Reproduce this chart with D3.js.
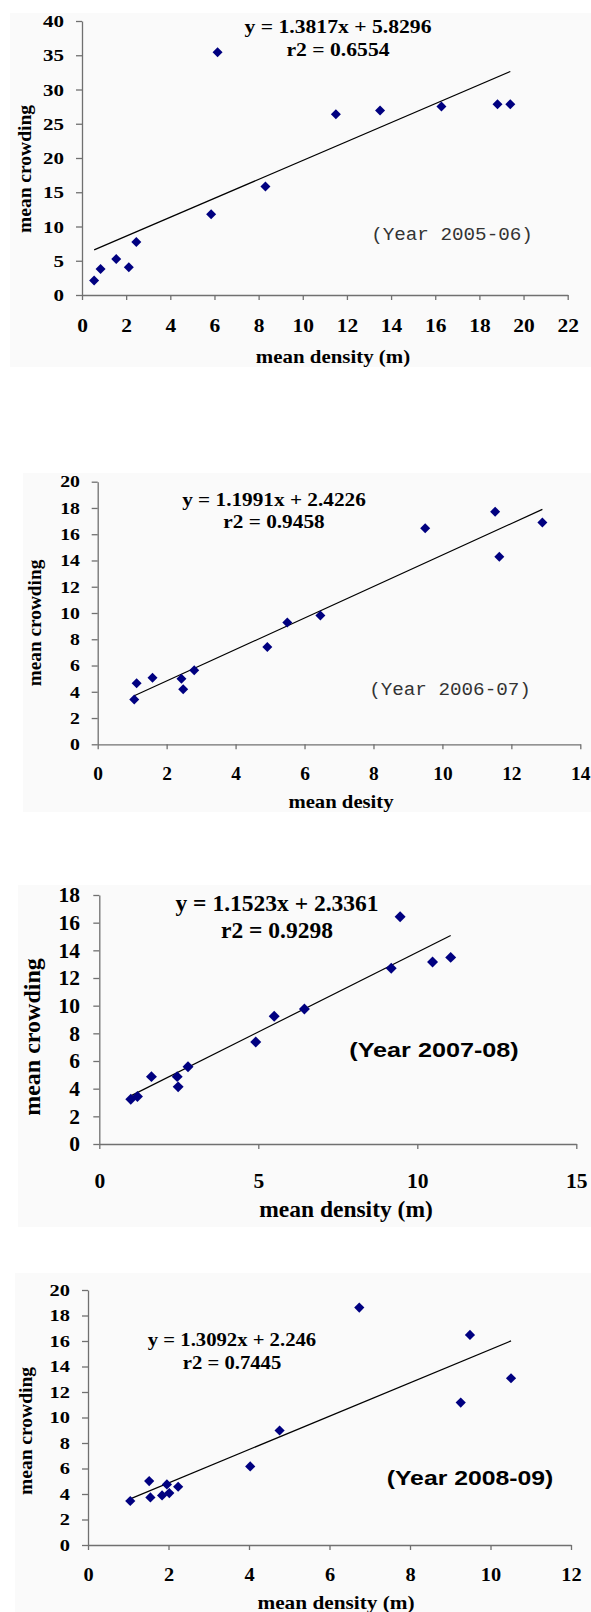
<!DOCTYPE html>
<html>
<head>
<meta charset="utf-8">
<script src="https://cdn.jsdelivr.net/npm/d3@7"></script>
<style>
  body { margin: 0; background: #fff; }
  svg { display: block; }
</style>
</head>
<body>
<svg id="chart" width="591" height="1612"></svg>
<script>
// Year 2005-06
const density05 = [0.55, 0.84, 1.55, 2.12, 2.46, 5.85, 6.14, 8.31, 11.5, 13.5, 16.28, 18.82, 19.4];
const crowding05 = [2.1, 3.8, 5.25, 4.05, 7.75, 11.8, 35.45, 15.85, 26.4, 26.95, 27.5, 27.85, 27.85];
// Year 2006-07
const density06 = [1.06, 1.13, 1.59, 2.43, 2.48, 2.8, 4.92, 5.5, 6.46, 9.5, 11.53, 11.65, 12.9];
const crowding06 = [3.41, 4.65, 5.06, 5.0, 4.2, 5.64, 7.41, 9.28, 9.81, 16.46, 17.72, 14.29, 16.89];
// Year 2007-08
const density07 = [0.99, 1.2, 1.64, 2.45, 2.48, 2.79, 4.92, 5.5, 6.45, 9.18, 9.46, 10.48, 11.05];
const crowding07 = [3.24, 3.44, 4.87, 4.87, 4.13, 5.58, 7.38, 9.23, 9.76, 12.71, 16.43, 13.15, 13.49];
// Year 2008-09
const density08 = [1.05, 1.52, 1.55, 1.84, 1.96, 2.02, 2.24, 4.03, 4.76, 6.74, 9.26, 9.49, 10.51];
const crowding08 = [3.45, 5.01, 3.73, 3.89, 4.75, 4.07, 4.57, 6.16, 8.98, 18.62, 11.17, 16.48, 13.08];

// fitted lines [slope, intercept] and their printed labels
const fit05 = [1.3817, 5.8296];
const fit06 = [1.1991, 2.4226];
const fit07 = [1.1523, 2.3361];
const fit08 = [1.3092, 2.246];
const eqLabels = [
  ['y = 1.3817x + 5.8296', 'r2 = 0.6554'],
  ['y = 1.1991x + 2.4226', 'r2 = 0.9458'],
  ['y = 1.1523x + 2.3361', 'r2 = 0.9298'],
  ['y = 1.3092x + 2.246', 'r2 = 0.7445']
];
const yearLabels = ['(Year 2005-06)', '(Year 2006-07)', '(Year 2007-08)', '(Year 2008-09)'];
const xTitles = ['mean density (m)', 'mean desity', 'mean density (m)', 'mean density (m)'];
const yTitle = 'mean crowding';

// tick values
const xTicks05 = [0, 2, 4, 6, 8, 10, 12, 14, 16, 18, 20, 22];
const yTicks05 = [0, 5, 10, 15, 20, 25, 30, 35, 40];
const xTicks06 = [0, 2, 4, 6, 8, 10, 12, 14];
const yTicks06 = [0, 2, 4, 6, 8, 10, 12, 14, 16, 18, 20];
const xTicks07 = [0, 5, 10, 15];
const yTicks07 = [0, 2, 4, 6, 8, 10, 12, 14, 16, 18];
const xTicks08 = [0, 2, 4, 6, 8, 10, 12];
const yTicks08 = [0, 2, 4, 6, 8, 10, 12, 14, 16, 18, 20];

const serif = '"Liberation Serif", "Times New Roman", serif';
const sans = '"Liberation Sans", Arial, sans-serif';
const mono = '"Liberation Mono", "DejaVu Sans Mono", monospace';

const panels = [
  { xs: density05, ys: crowding05, fit: fit05, xt: xTicks05, yt: yTicks05,
    bg: [10, 13, 581, 354], px: [82, 567.7], py: [295, 21],
    yFont: 17.5, yStretch: 1.2, yOff: 18, xFont: 19.5, xStretch: 1.1, xOff: 37,
    title: [333, 363, 18.5, 1.13], ytitle: [24, 169, 19.5],
    eq: [338, 33, 56, 18.5, 1.17], year: [452, 240, 18, 1.07, mono, 'normal', '#333'], mk: 50 },
  { xs: density06, ys: crowding06, fit: fit06, xt: xTicks06, yt: yTicks06,
    bg: [23, 473, 568, 339], px: [97.7, 580.3], py: [744.3, 481.7],
    yFont: 16.5, yStretch: 1.2, yOff: 17.7, xFont: 18.5, xStretch: 1.05, xOff: 35.5,
    title: [341, 808, 18.5, 1.12], ytitle: [34, 623, 19.3],
    eq: [274, 506, 528, 19, 1.12], year: [450, 695, 18, 1.07, mono, 'normal', '#333'], mk: 50 },
  { xs: density07, ys: crowding07, fit: fit07, xt: xTicks07, yt: yTicks07,
    bg: [18, 885, 573, 342], px: [99.3, 576.3], py: [1144, 895],
    yFont: 21.5, yStretch: 1.0, yOff: 19.3, xFont: 21.5, xStretch: 1.0, xOff: 44,
    title: [346, 1217, 23.5, 1.0], ytitle: [32, 1037, 24],
    eq: [277, 911, 938, 23.5, 1.0], year: [434, 1057, 21, 1.2, sans, 'bold', '#000'], mk: 60 },
  { xs: density08, ys: crowding08, fit: fit08, xt: xTicks08, yt: yTicks08,
    bg: [15, 1273, 576, 339], px: [88, 571], py: [1545, 1290],
    yFont: 17, yStretch: 1.2, yOff: 18, xFont: 18.5, xStretch: 1.1, xOff: 36.5,
    title: [336, 1609, 18.5, 1.15], ytitle: [25, 1431, 19.5],
    eq: [232, 1346, 1369, 18, 1.15], year: [470, 1485, 21, 1.18, sans, 'bold', '#000'], mk: 52 }
];

const svg = d3.select('#chart');
svg.append('rect').attr('width', 591).attr('height', 1612).attr('fill', '#fff');

function stretchedText(g, x, y, txt, size, s, family, weight, color) {
  return g.append('text')
    .attr('transform', 'translate(' + x + ',' + y + ') scale(' + s + ',1)')
    .attr('text-anchor', 'middle')
    .style('font-family', family)
    .style('font-weight', weight)
    .style('font-size', size + 'px')
    .attr('fill', color)
    .text(txt);
}

panels.forEach((p, i) => {
  const g = svg.append('g');
  g.append('rect')
    .attr('x', p.bg[0]).attr('y', p.bg[1])
    .attr('width', p.bg[2]).attr('height', p.bg[3])
    .attr('fill', '#fafafa');

  const x = d3.scaleLinear().domain(d3.extent(p.xt)).range(p.px);
  const y = d3.scaleLinear().domain(d3.extent(p.yt)).range(p.py);

  const xAxis = g.append('g')
    .attr('transform', 'translate(0,' + p.py[0] + ')')
    .call(d3.axisBottom(x).tickValues(p.xt).tickSize(5).tickSizeOuter(0).tickFormat(d3.format('d')));
  const yAxis = g.append('g')
    .attr('transform', 'translate(' + p.px[0] + ',0)')
    .call(d3.axisLeft(y).tickValues(p.yt).tickSize(6).tickSizeOuter(0).tickFormat(d3.format('d')));

  [xAxis, yAxis].forEach(a => {
    a.select('.domain').attr('stroke', '#707070').attr('stroke-width', 1.3);
    a.selectAll('.tick line').attr('stroke', '#707070').attr('stroke-width', 1.3);
    a.selectAll('.tick text')
      .attr('fill', '#000')
      .style('font-family', serif)
      .style('font-weight', 'bold');
  });
  xAxis.selectAll('.tick text')
    .style('font-size', p.xFont + 'px')
    .attr('y', p.xOff).attr('dy', 0)
    .attr('transform', 'scale(' + p.xStretch + ',1)');
  yAxis.selectAll('.tick text')
    .style('font-size', p.yFont + 'px')
    .attr('x', -p.yOff / p.yStretch)
    .attr('transform', 'scale(' + p.yStretch + ',1)');

  // trend line over the range of the data
  const xr = d3.extent(p.xs);
  g.append('line')
    .attr('x1', x(xr[0])).attr('y1', y(p.fit[0] * xr[0] + p.fit[1]))
    .attr('x2', x(xr[1])).attr('y2', y(p.fit[0] * xr[1] + p.fit[1]))
    .attr('stroke', '#000').attr('stroke-width', 1.2);

  // diamond markers
  g.selectAll('path.pt')
    .data(p.xs.map((d, j) => [d, p.ys[j]]))
    .enter().append('path')
    .attr('class', 'pt')
    .attr('d', d3.symbol(d3.symbolSquare, p.mk))
    .attr('transform', d => 'translate(' + x(d[0]) + ',' + y(d[1]) + ') rotate(45)')
    .attr('fill', '#000080');

  // axis titles
  stretchedText(g, p.title[0], p.title[1], xTitles[i], p.title[2], p.title[3], serif, 'bold', '#000');
  g.append('text')
    .attr('transform', 'translate(' + p.ytitle[0] + ',' + p.ytitle[1] + ') rotate(-90)')
    .attr('text-anchor', 'middle')
    .attr('dy', '0.35em')
    .style('font-family', serif)
    .style('font-weight', 'bold')
    .style('font-size', p.ytitle[2] + 'px')
    .text(yTitle);

  // equation
  stretchedText(g, p.eq[0], p.eq[1], eqLabels[i][0], p.eq[3], p.eq[4], serif, 'bold', '#000');
  stretchedText(g, p.eq[0], p.eq[2], eqLabels[i][1], p.eq[3], p.eq[4], serif, 'bold', '#000');

  // year label
  const yr = p.year;
  stretchedText(g, yr[0], yr[1], yearLabels[i], yr[2], yr[3], yr[4], yr[5], yr[6]);
});
</script>
</body>
</html>
